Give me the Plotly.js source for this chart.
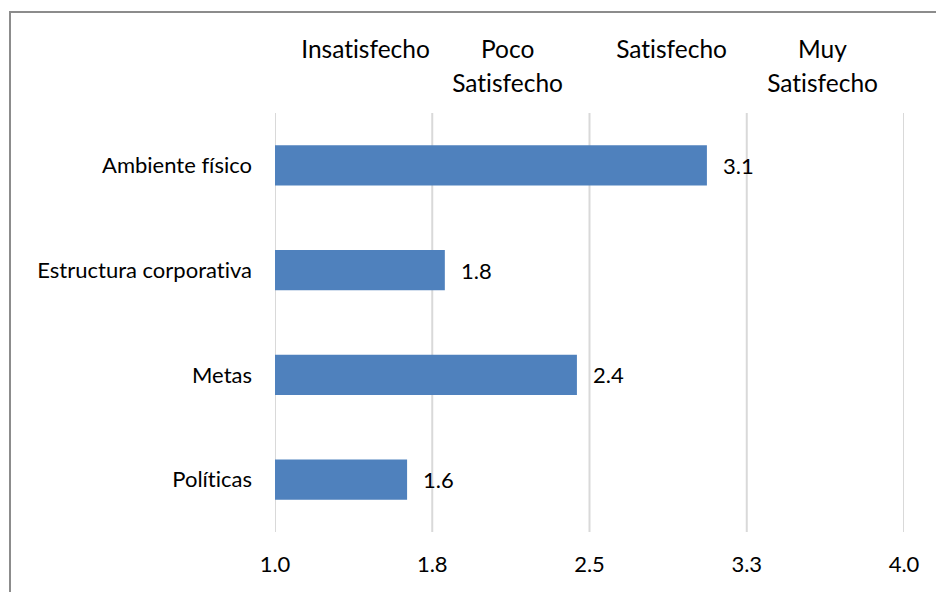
<!DOCTYPE html>
<html>
<head>
<meta charset="utf-8">
<script src="https://cdn.plot.ly/plotly-3.0.1.min.js"></script>
<style>
html,body{margin:0;padding:0;background:#fff;}
#wrap{position:relative;width:936px;height:592px;overflow:hidden;}
#chart{position:absolute;left:0;top:0;width:936px;height:592px;}
#chart text{font-variant-ligatures:none !important;font-feature-settings:"liga" 0,"clig" 0 !important;}
#frame{position:absolute;left:9px;top:11px;width:940px;height:600px;border-left:2px solid #8c8c8c;border-top:2px solid #8c8c8c;pointer-events:none;}
</style>
</head>
<body>
<div id="wrap"><div id="chart"></div><div id="frame"></div></div>
<script>
// Data
var categories = ['Ambiente físico', 'Estructura corporativa', 'Metas', 'Políticas'];
var values = [3.06, 1.81, 2.44, 1.63];
var tickValues = [1.0, 1.75, 2.5, 3.25, 4.0];
var tickLabels = ['1.0', '1.8', '2.5', '3.3', '4.0'];
var scaleLabels = ['Insatisfecho', 'Poco<br>Satisfecho', 'Satisfecho', 'Muy<br>Satisfecho'];

var FONT = 'Lato, Carlito, Calibri, sans-serif';
var SIZE = 22;
var TOPSIZE = 24.5;
var labelX = [1.432, 2.107, 2.893, 3.609];

var annotations = [];
scaleLabels.forEach(function (lab, i) {
  lab.split('<br>').forEach(function (line, j) {
    annotations.push({
      text: line, x: labelX[i], xref: 'x', xanchor: 'center',
      y: 1, yref: 'paper', yanchor: 'middle',
      yshift: 65 - j * 34,
      showarrow: false,
      font: {family: FONT, size: TOPSIZE, color: '#000'}
    });
  });
});
values.forEach(function (v, i) {
  annotations.push({
    text: v.toFixed(1), x: v, xref: 'x', y: categories[i], yref: 'y',
    xanchor: 'left', yanchor: 'middle', xshift: 14, showarrow: false,
    font: {family: FONT, size: SIZE, color: '#000'}
  });
});

var shapes = tickValues.map(function (t) {
  return {type: 'line', xref: 'x', yref: 'paper', x0: t, x1: t, y0: 0, y1: 1,
          layer: 'below', line: {color: '#D9D9D9', width: 2}};
});

var trace = {
  type: 'bar', orientation: 'h',
  y: categories, x: values, base: 0,
  width: 0.385,
  marker: {color: '#4F81BD', line: {width: 0}},
  hoverinfo: 'none'
};

var layout = {
  width: 936, height: 592,
  margin: {l: 275, r: 32, t: 113, b: 60, pad: 0},
  paper_bgcolor: '#fff', plot_bgcolor: 'rgba(0,0,0,0)',
  showlegend: false,
  font: {family: FONT, size: SIZE, color: '#000'},
  xaxis: {
    range: [1, 4], tickvals: tickValues, ticktext: tickLabels,
    showgrid: false,
    zeroline: false, showline: false, ticks: '',
    ticklabelstandoff: 17,
    tickfont: {family: FONT, size: SIZE, color: '#000'}
  },
  yaxis: {
    type: 'category', autorange: 'reversed',
    showgrid: false, zeroline: false, showline: false, ticks: '',
    ticklabelstandoff: 22,
    tickfont: {family: FONT, size: SIZE, color: '#000'}
  },
  shapes: shapes,
  annotations: annotations,
  bargap: 0.6
};

Plotly.newPlot('chart', [trace], layout, {displayModeBar: false, staticPlot: true});
</script>
</body>
</html>
